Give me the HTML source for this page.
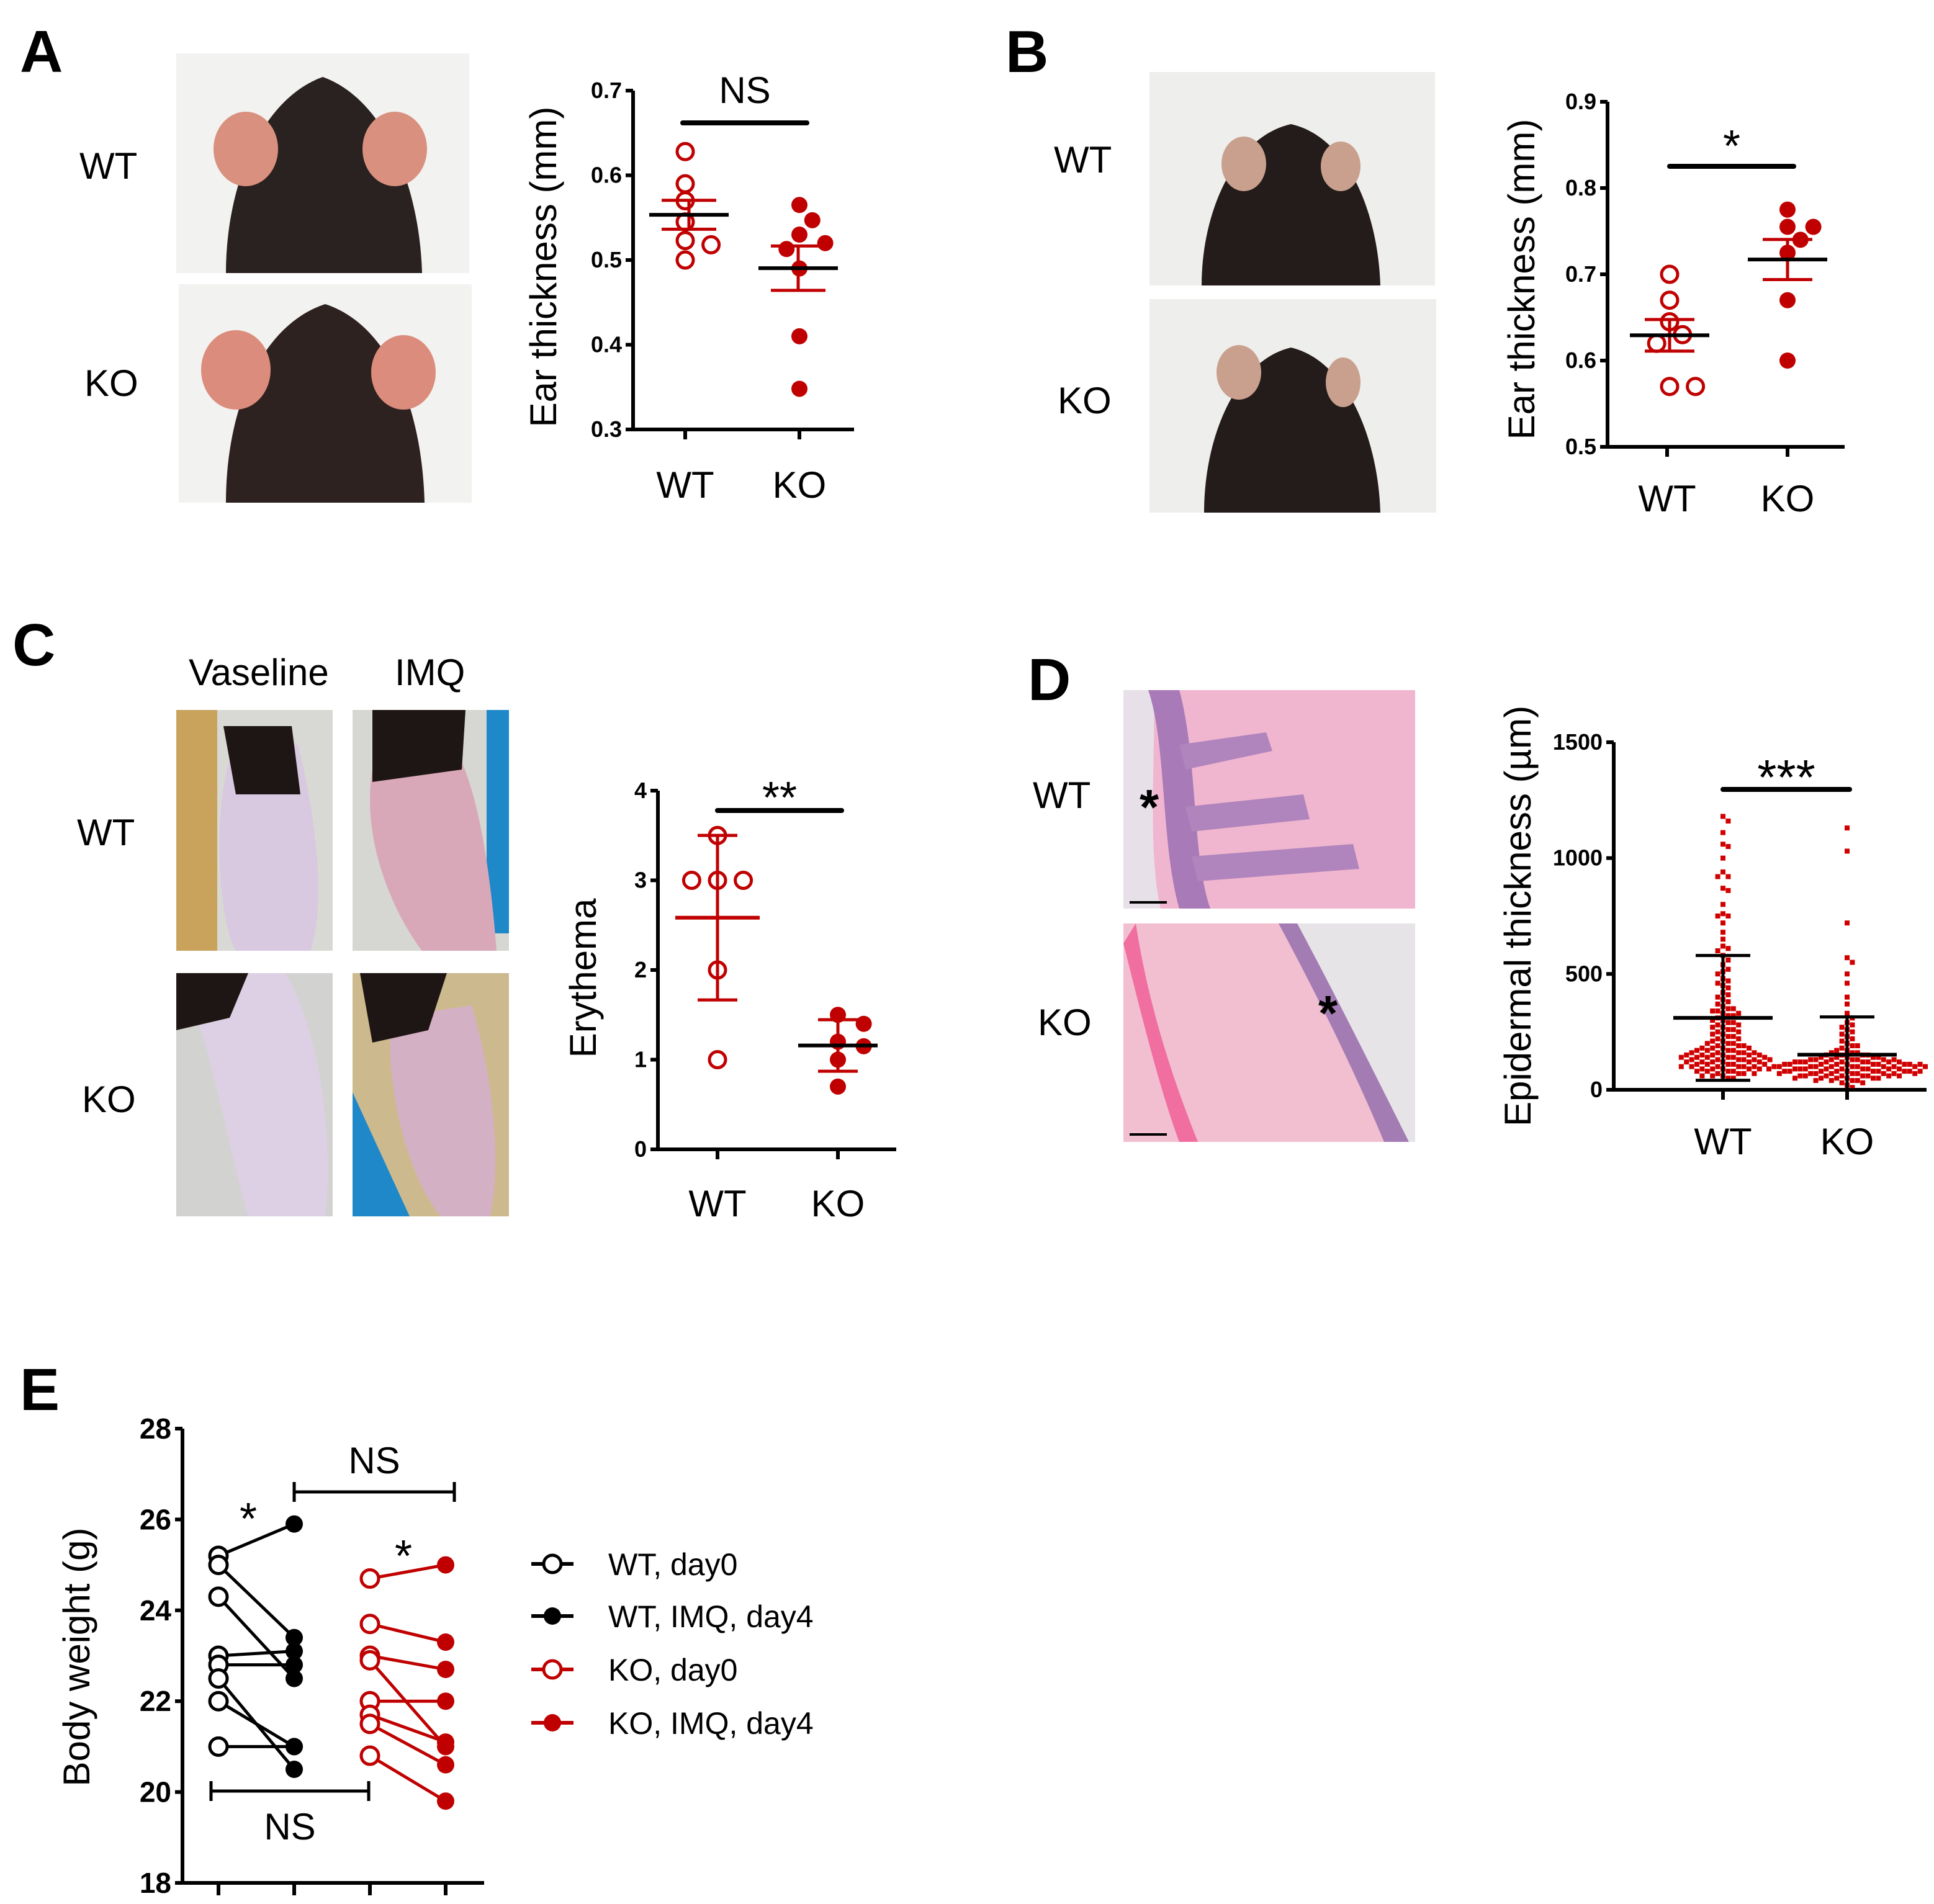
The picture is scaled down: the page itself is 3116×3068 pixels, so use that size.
<!DOCTYPE html>
<html><head><meta charset="utf-8"><style>
html,body{margin:0;padding:0;background:#fff}
svg{display:block}
text{font-family:"Liberation Sans",Arial,sans-serif}
.tick{font-weight:bold;font-size:18px}
.lbl{font-size:30px}
.pl{font-size:48px;font-weight:bold}
</style></head><body>
<svg id="fig" xmlns="http://www.w3.org/2000/svg" width="3116" height="3068" viewBox="0 0 1558 1534">
<rect width="1558" height="1534" fill="#fff"/>
<text class="pl" x="16" y="58">A</text>
<text class="pl" x="810" y="58">B</text>
<text class="pl" x="10" y="536">C</text>
<text class="pl" x="828" y="564">D</text>
<text class="pl" x="16" y="1136">E</text>

<g>
<rect x="142" y="43" width="236" height="177" fill="#f2f2f0"/>
<path d="M182 220 C182 150 210 80 260 62 C310 80 338 150 340 220 Z" fill="#2a2220"/>
<ellipse cx="198" cy="120" rx="26" ry="30" fill="#d9907f"/>
<ellipse cx="318" cy="120" rx="26" ry="30" fill="#d9907f"/>
</g>
<g>
<rect x="144" y="229" width="236" height="176" fill="#f2f2f0"/>
<path d="M182 405 C182 330 210 262 262 245 C314 262 340 330 342 405 Z" fill="#2e2220"/>
<ellipse cx="190" cy="298" rx="28" ry="32" fill="#dc8c7c"/>
<ellipse cx="325" cy="300" rx="26" ry="30" fill="#dc8c7c"/>
</g>
<text class="lbl" x="64" y="144">WT</text>
<text class="lbl" x="68" y="319">KO</text>

<g>
<rect x="926" y="58" width="230" height="172" fill="#eeeeec"/>
<path d="M968 230 C968 170 995 110 1040 100 C1085 110 1110 170 1112 230 Z" fill="#241c1a"/>
<ellipse cx="1002" cy="132" rx="18" ry="22" fill="#c9a08e"/>
<ellipse cx="1080" cy="134" rx="16" ry="20" fill="#c9a08e"/>
</g>
<g>
<rect x="926" y="241" width="231" height="172" fill="#eeeeec"/>
<path d="M970 413 C970 350 997 290 1040 280 C1083 290 1110 350 1112 413 Z" fill="#241c1a"/>
<ellipse cx="998" cy="300" rx="18" ry="22" fill="#c9a08e"/>
<ellipse cx="1082" cy="308" rx="14" ry="20" fill="#c9a08e"/>
</g>
<text class="lbl" x="849" y="139">WT</text>
<text class="lbl" x="852" y="333">KO</text>

<text class="lbl" x="152" y="552" font-size="28">Vaseline</text>
<text class="lbl" x="318" y="552" font-size="28">IMQ</text>
<text class="lbl" x="62" y="681">WT</text>
<text class="lbl" x="66" y="896">KO</text>
<g>
<rect x="142" y="572" width="126" height="194" fill="#c9a35c"/>
<rect x="175" y="572" width="93" height="194" fill="#d8d8d4"/>
<path d="M190 600 C170 640 175 740 190 766 L250 766 C265 720 250 640 240 600 Z" fill="#d8c8e0"/>
<path d="M180 585 L235 585 L242 640 L190 640 Z" fill="#1e1614"/>
</g>
<g>
<rect x="284" y="572" width="126" height="194" fill="#d6d6d2"/>
<rect x="392" y="572" width="18" height="180" fill="#1f88c8"/>
<path d="M300 620 C290 680 320 740 340 766 L400 766 C395 700 385 640 370 610 Z" fill="#d9a8b8"/>
<path d="M300 572 L375 572 L372 620 L300 630 Z" fill="#1e1614"/>
</g>
<g>
<rect x="142" y="784" width="126" height="196" fill="#d2d2d0"/>
<path d="M150 784 L230 784 C262 840 268 930 262 980 L200 980 C185 930 170 840 150 800 Z" fill="#ddd0e4"/>
<path d="M142 784 L200 784 L185 820 L142 830 Z" fill="#1e1614"/>
</g>
<g>
<rect x="284" y="784" width="126" height="196" fill="#cdb98e"/>
<path d="M284 880 L330 980 L284 980 Z" fill="#1f88c8"/>
<path d="M315 820 C310 880 330 950 355 980 L395 980 C405 930 395 860 380 810 Z" fill="#d4b0c4"/>
<path d="M290 784 L360 784 L345 830 L300 840 Z" fill="#1e1614"/>
</g>

<g>
<rect x="905" y="556" width="235" height="176" fill="#f0b6cf"/>
<path d="M905 556 L930 556 C930 620 925 690 935 732 L905 732 Z" fill="#e8e0e8"/>
<path d="M925 556 C940 600 935 680 950 732 L975 732 C960 690 965 610 950 556 Z" fill="#a87ab8"/>
<path d="M950 600 L1020 590 L1025 605 L955 620 Z M955 650 L1050 640 L1055 660 L960 670 Z M960 690 L1090 680 L1095 700 L965 710 Z" fill="#b084bc"/>
<text x="918" y="664" font-size="40" font-weight="bold">*</text>
<line x1="910" y1="727" x2="940" y2="727" stroke="#000" stroke-width="2"/>
</g>
<g>
<rect x="905" y="744" width="235" height="176" fill="#f2bfd0"/>
<path d="M1040 744 L1140 744 L1140 920 L1130 920 C1100 860 1070 800 1040 744 Z" fill="#e6e4e6"/>
<path d="M1030 744 L1045 744 C1075 800 1105 860 1135 920 L1115 920 C1090 860 1060 800 1030 744 Z" fill="#a47cb4"/>
<path d="M905 760 C920 820 935 880 950 920 L965 920 C945 870 925 810 915 744 Z" fill="#f06fa0"/>
<text x="1062" y="830" font-size="40" font-weight="bold">*</text>
<line x1="910" y1="914" x2="940" y2="914" stroke="#000" stroke-width="2"/>
</g>
<text class="lbl" x="832" y="651">WT</text>
<text class="lbl" x="836" y="834">KO</text>

<g id="charts"></g>

<g>
<g><line x1="428" y1="1260" x2="462" y2="1260" stroke="#000" stroke-width="3"/><circle cx="445" cy="1260" r="7" fill="#fff" stroke="#000" stroke-width="2.5"/><text x="490" y="1269" font-size="25">WT, day0</text></g>
<g><line x1="428" y1="1302" x2="462" y2="1302" stroke="#000" stroke-width="3"/><circle cx="445" cy="1302" r="7" fill="#000"/><text x="490" y="1311" font-size="25">WT, IMQ, day4</text></g>
<g><line x1="428" y1="1345" x2="462" y2="1345" stroke="#c00000" stroke-width="3"/><circle cx="445" cy="1345" r="7" fill="#fff" stroke="#c00000" stroke-width="2.5"/><text x="490" y="1354" font-size="25">KO, day0</text></g>
<g><line x1="428" y1="1388" x2="462" y2="1388" stroke="#c00000" stroke-width="3"/><circle cx="445" cy="1388" r="7" fill="#c00000"/><text x="490" y="1397" font-size="25">KO, IMQ, day4</text></g>
</g>
</svg>
<script>
const earA_wt = [0.628, 0.59, 0.57, 0.545, 0.523, 0.518, 0.50];
const earA_ko = [0.565, 0.547, 0.53, 0.52, 0.513, 0.49, 0.41, 0.348];
const earA_ticks = [0.3, 0.4, 0.5, 0.6, 0.7];
const earB_wt = [0.70, 0.67, 0.645, 0.63, 0.62, 0.57, 0.57];
const earB_ko = [0.775, 0.755, 0.755, 0.74, 0.725, 0.67, 0.60];
const earB_ticks = [0.5, 0.6, 0.7, 0.8, 0.9];
const ery_wt = [3.5, 3, 3, 3, 2, 1];
const ery_ko = [1.5, 1.4, 1.2, 1.15, 1.0, 0.7];
const ery_ticks = [0, 1, 2, 3, 4];
const epi_wt = [1180,1160,1110,1060,1050,1000,940,920,920,870,860,800,760,750,750,720,680,650,620,610,600,580,560,540,520,510,500,480,470,460,450,440,420,410,400,390,380,370,360,350,350,340,340,330,330,320,320,310,300,300,290,290,280,280,270,270,260,260,250,250,240,240,230,230,220,220,210,210,200,200,200,190,190,190,180,180,180,180,170,170,170,170,160,160,160,160,160,150,150,150,150,150,150,140,140,140,140,140,140,130,130,130,130,130,130,120,120,120,120,120,120,110,110,110,110,110,100,100,100,100,100,100,90,90,90,90,90,80,80,80,80,70,70,70,70,60,60,60,50,50];
const epi_ko = [1130,1030,720,570,550,500,460,400,370,330,310,290,280,270,260,250,240,230,220,210,200,190,190,180,170,170,160,160,160,150,150,150,150,140,140,140,140,140,130,130,130,130,130,130,130,120,120,120,120,120,120,120,120,120,110,110,110,110,110,110,110,110,110,110,100,100,100,100,100,100,100,100,100,100,100,90,90,90,90,90,90,90,90,90,90,80,80,80,80,80,80,80,80,80,80,70,70,70,70,70,70,70,70,70,60,60,60,60,60,60,60,60,50,50,50,50,50,50,40,40,40,40,30,30,20,10];
const epi_ticks = [0, 500, 1000, 1500];
const bw_wt_day0 = [25.2, 25.0, 24.3, 23.0, 22.8, 22.5, 22.0, 21.0];
const bw_wt_day4 = [25.9, 23.4, 22.5, 23.1, 22.8, 20.5, 21.0, 21.0];
const bw_ko_day0 = [24.7, 23.7, 23.0, 22.9, 22.0, 21.7, 21.5, 20.8];
const bw_ko_day4 = [25.0, 23.3, 22.7, 21.0, 22.0, 21.1, 20.6, 19.8];
const bw_ticks = [18, 20, 22, 24, 26, 28];

const NS='http://www.w3.org/2000/svg';
const root=document.getElementById('charts');
function mk(tag,attrs,parent){const e=document.createElementNS(NS,tag);for(const k in attrs)e.setAttribute(k,attrs[k]);(parent||root).appendChild(e);return e;}
function mean(a){return a.reduce((s,v)=>s+v,0)/a.length;}
function sd(a){const m=mean(a);return Math.sqrt(a.reduce((s,v)=>s+(v-m)*(v-m),0)/(a.length-1));}
function lin(d0,d1,r0,r1){return v=>r0+(v-d0)/(d1-d0)*(r1-r0);}

function axes(g,cfg){
  const y=cfg.y;
  const ax=mk('path',{d:`M${cfg.x0} ${cfg.yTop} L${cfg.x0} ${cfg.yBot} L${cfg.x1} ${cfg.yBot}`,fill:'none',stroke:'#000','stroke-width':3},g);
  
  
  cfg.ticks.forEach(t=>{
    const yy=y(t);
    mk('line',{x1:cfg.x0-6,y1:yy,x2:cfg.x0,y2:yy,stroke:'#000','stroke-width':3},g);
    const tx=mk('text',{x:cfg.x0-9,y:yy+6,'text-anchor':'end',class:'tick'},g);
    
    
    tx.textContent=cfg.fmt?cfg.fmt(t):t;
  });
  cfg.cats.forEach((c,i)=>{
    mk('line',{x1:cfg.cx[i],y1:cfg.yBot,x2:cfg.cx[i],y2:cfg.yBot+8,stroke:'#000','stroke-width':3},g);
    const tx=mk('text',{x:cfg.cx[i],y:cfg.yBot+cfg.labOff,'text-anchor':'middle',class:'lbl'},g);
    
    
    tx.textContent=c;
  });
  const yl=mk('text',{transform:`translate(${cfg.ylx},${cfg.yly}) rotate(-90)`,'text-anchor':'middle',class:'lbl'},g);
  
  
  yl.textContent=cfg.ylab;
  const sb=mk('line',{x1:cfg.sig[0],y1:cfg.sig[2],x2:cfg.sig[1],y2:cfg.sig[2],stroke:'#000','stroke-width':4,'stroke-linecap':'round'},g);
  
  
  const st=mk('text',{x:(cfg.sig[0]+cfg.sig[1])/2,y:cfg.sig[2]-cfg.sigOff,'text-anchor':'middle','font-size':cfg.sigSize||30},g);
  
  
  st.textContent=cfg.sigText;
}

function swarm(vals,cx,y,r,sep){
  const placed=[];const out=[];
  vals.forEach(v=>{
    const yy=y(v);let x=cx;
    const offs=[0];for(let i=1;i<40;i++){offs.push(i*sep,-i*sep);}
    for(const o of offs){x=cx+o;if(placed.every(p=>Math.hypot(p[0]-x,p[1]-yy)>=2*r))break;}
    placed.push([x,yy]);out.push([x,yy]);
  });
  return out;
}

function dotGroup(g,vals,cx,y,open,r,name){
  const pts=swarm(vals,cx,y,r,r*1.6);
  pts.forEach(p=>{
    const c=mk('circle',{cx:p[0],cy:p[1],r:r,fill:open?'#fff':'#c00000',stroke:'#c00000','stroke-width':open?2.5:0},g);
    
    
  });
}
function meanErr(g,vals,cx,y,useSD,wM,wE,colM,colE){
  const m=mean(vals);const e=useSD?sd(vals):sd(vals)/Math.sqrt(vals.length);
  const l1=mk('line',{x1:cx,y1:y(Math.max(m-e,0)),x2:cx,y2:y(m+e),stroke:colE,'stroke-width':2.5},g);
  
  
  [Math.max(m-e,0),m+e].forEach(v=>{const c=mk('line',{x1:cx-wE,y1:y(v),x2:cx+wE,y2:y(v),stroke:colE,'stroke-width':2.5},g);
    
    });
  const ml=mk('line',{x1:cx-wM,y1:y(m),x2:cx+wM,y2:y(m),stroke:colM,'stroke-width':3},g);
  
  
}

(function(){
  const g=mk('g',{});
  const y=lin(0.3,0.7,346,73);
  axes(g,{x0:510,x1:688,yTop:73,yBot:346,y,ticks:earA_ticks,fmt:t=>t.toFixed(1),cats:['WT','KO'],cx:[552,644],labOff:55,ylab:'Ear thickness (mm)',ylx:448,yly:215,sig:[550,650,99],sigText:'NS',sigOff:16});
  dotGroup(g,earA_wt,552,y,true,6.5,'point-wt');
  dotGroup(g,earA_ko,644,y,false,6.5,'point-ko');
  meanErr(g,earA_wt,555,y,false,32,22,'#000','#c00000');
  meanErr(g,earA_ko,643,y,false,32,22,'#000','#c00000');
})();
(function(){
  const g=mk('g',{});
  const y=lin(0.5,0.9,360,82);
  axes(g,{x0:1295,x1:1486,yTop:82,yBot:360,y,ticks:earB_ticks,fmt:t=>t.toFixed(1),cats:['WT','KO'],cx:[1343,1440],labOff:52,ylab:'Ear thickness (mm)',ylx:1236,yly:225,sig:[1345,1445,134],sigText:'*',sigOff:4,sigSize:36});
  dotGroup(g,earB_wt,1345,y,true,6.5,'point-wt');
  dotGroup(g,earB_ko,1440,y,false,6.5,'point-ko');
  meanErr(g,earB_wt,1345,y,false,32,20,'#000','#c00000');
  meanErr(g,earB_ko,1440,y,false,32,20,'#000','#c00000');
})();
(function(){
  const g=mk('g',{});
  const y=lin(0,4,926,637);
  axes(g,{x0:530,x1:722,yTop:637,yBot:926,y,ticks:ery_ticks,cats:['WT','KO'],cx:[578,675],labOff:54,ylab:'Erythema',ylx:480,yly:788,sig:[578,678,653],sigText:'**',sigOff:-2,sigSize:36});
  dotGroup(g,ery_wt,578,y,true,6.5,'point-wt');
  dotGroup(g,ery_ko,675,y,false,6.5,'point-ko');
  meanErr(g,ery_wt,578,y,true,34,16,'#c00000','#c00000');
  meanErr(g,ery_ko,675,y,true,32,16,'#000','#c00000');
})();
(function(){
  const g=mk('g',{});
  const y=lin(0,1500,878,598);
  axes(g,{x0:1300,x1:1552,yTop:598,yBot:878,y,ticks:epi_ticks,cats:['WT','KO'],cx:[1388,1488],labOff:52,ylab:'Epidermal thickness (\u00b5m)',ylx:1233,yly:738,sig:[1388,1490,636],sigText:'***',sigOff:-4,sigSize:40});
  [[epi_wt,1388,'point-wt'],[epi_ko,1488,'point-ko']].forEach(([vals,cx,nm])=>{
    const pts=swarm(vals,cx,y,2.1,4.2);
    pts.forEach(p=>{const c=mk('rect',{x:p[0]-2,y:p[1]-2,width:4,height:4,fill:'#d00000'},g);
      
      });
  });
  meanErr(g,epi_wt,1388,y,true,40,22,'#000','#000');
  meanErr(g,epi_ko,1488,y,true,40,22,'#000','#000');
})();
(function(){
  const g=mk('g',{});
  const y=lin(18,28,1517,1151);
  const cx=[176,237,298,359];
  const ax=mk('path',{d:`M147 1151 L147 1517 L390 1517`,fill:'none',stroke:'#000','stroke-width':3},g);
  
  
  bw_ticks.forEach(t=>{const yy=y(t);mk('line',{x1:141,y1:yy,x2:147,y2:yy,stroke:'#000','stroke-width':3},g);
    const tx=mk('text',{x:138,y:yy+8,'text-anchor':'end','font-weight':'bold','font-size':23},g);
    
    
    tx.textContent=t;});
  cx.forEach(x=>mk('line',{x1:x,y1:1517,x2:x,y2:1527,stroke:'#000','stroke-width':3},g));
  const yl=mk('text',{transform:'translate(72,1335) rotate(-90)','text-anchor':'middle',class:'lbl'},g);
  
  
  yl.textContent='Body weight (g)';
  function pairs(d0,d4,x0,x1,col,nm){
    d0.forEach((v,i)=>{const l=mk('line',{x1:x0,y1:y(v),x2:x1,y2:y(d4[i]),stroke:col,'stroke-width':2.5},g);
      
      });
    d0.forEach(v=>{const c=mk('circle',{cx:x0,cy:y(v),r:7,fill:'#fff',stroke:col,'stroke-width':2.5},g);
      
      });
    d4.forEach(v=>{const c=mk('circle',{cx:x1,cy:y(v),r:7,fill:col},g);
      
      });
  }
  pairs(bw_wt_day0,bw_wt_day4,cx[0],cx[1],'#000','wt');
  pairs(bw_ko_day0,bw_ko_day4,cx[2],cx[3],'#c00000','ko');
  function bracket(x0,x1,yy,label,ly,nm){
    const p=mk('path',{d:`M${x0} ${yy-8} L${x0} ${yy+8} M${x0} ${yy} L${x1} ${yy} M${x1} ${yy-8} L${x1} ${yy+8}`,stroke:'#000','stroke-width':2.5,fill:'none'},g);
    
    
    const t=mk('text',{x:(x0+x1)/2,y:ly,'text-anchor':'middle',class:'lbl'},g);
    
    
    t.textContent=label;
  }
  bracket(237,366,1202,'NS',1187,'bracket-top');
  bracket(170,297,1443,'NS',1482,'bracket-bottom');
  [[200,1236],[325,1266]].forEach(p=>{const t=mk('text',{x:p[0],y:p[1],'text-anchor':'middle','font-size':36},g);
    
    
    t.textContent='*';});
})();
</script>
</body></html>
